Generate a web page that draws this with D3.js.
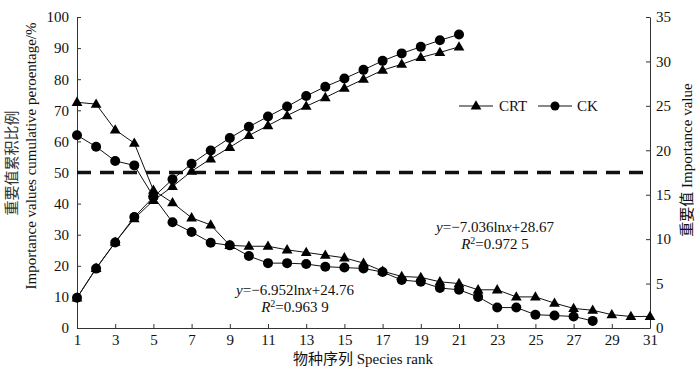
<!DOCTYPE html>
<html lang="zh">
<head>
  <meta charset="UTF-8">
  <title>重要值累积比例</title>
  <style>
    body { margin: 0; background: #fff; }
    svg text { font-family: "Liberation Serif", "Noto Sans CJK SC", serif; fill: #111; }
    .axis text { font-size: 15px; }
    .axis path, .axis line { stroke: #333; stroke-width: 1px; }
    .line { fill: none; stroke: #111; stroke-width: 1px; }
  </style>
</head>
<body>
  <script src="https://cdn.jsdelivr.net/npm/d3@7"></script>
  <script>
    const width = 700, height = 368;
    // 物种序列
    const cumRanks = d3.range(1, 22);
    const crtRanks = d3.range(1, 32);
    const ckRanks = d3.range(1, 29);
    // 重要值累积比例 (%)
    const crtCum = [9.7, 19.2, 27.6, 35.2, 41.0, 45.5, 50.4, 54.4, 58.1, 61.9, 65.1,
      68.3, 71.3, 74.1, 77.1, 80.0, 82.9, 84.8, 87.0, 88.6, 90.4];
    const ckCum = [9.7, 19.1, 27.5, 35.7, 42.1, 47.8, 52.8, 57.1, 61.1, 64.7, 68.0,
      71.2, 74.6, 77.6, 80.2, 83.0, 85.9, 88.3, 90.4, 92.5, 94.4];
    // 重要值
    const crtIv = [25.4, 25.2, 22.3, 20.8, 15.5, 14.1, 12.4, 11.6, 9.3, 9.2, 9.2,
      8.8, 8.5, 8.2, 7.9, 7.3, 6.4, 5.8, 5.7, 5.2, 5.0, 4.3, 4.3, 3.5, 3.5,
      2.8, 2.2, 2.0, 1.5, 1.3, 1.3];
    const ckIv = [21.7, 20.4, 18.8, 18.3, 14.8, 11.9, 10.8, 9.6, 9.3, 8.1, 7.3,
      7.3, 7.2, 6.9, 6.8, 6.7, 6.3, 5.4, 5.2, 4.5, 4.3, 3.5, 2.3, 2.3, 1.5,
      1.4, 1.3, 0.8];
    const xTicks = d3.range(1, 32, 2);
    const leftTicks = d3.range(0, 101, 10);
    const rightTicks = d3.range(0, 36, 5);
    const halfLine = 50;

    const x = d3.scaleLinear().domain([1, 31]).range([77, 650]);
    const yL = d3.scaleLinear().domain([0, 100]).range([328, 17]);
    const yR = d3.scaleLinear().domain([0, 35]).range([328, 17]);

    const svg = d3.select('body').append('svg')
      .attr('width', width).attr('height', height);

    svg.append('g').attr('class', 'axis')
      .attr('transform', 'translate(0,' + yL(0) + ')')
      .call(d3.axisBottom(x).tickValues(xTicks).tickSizeInner(-4).tickSizeOuter(0).tickPadding(6));
    svg.append('g').attr('class', 'axis')
      .attr('transform', 'translate(' + x(1) + ',0)')
      .call(d3.axisLeft(yL).tickValues(leftTicks).tickSizeInner(-4).tickSizeOuter(0).tickPadding(8));
    svg.append('g').attr('class', 'axis')
      .attr('transform', 'translate(' + x(31) + ',0)')
      .call(d3.axisRight(yR).tickValues(rightTicks).tickSizeInner(-4).tickSizeOuter(0).tickPadding(6));

    // 50% 虚线
    svg.append('line')
      .attr('x1', x(1)).attr('x2', x(31))
      .attr('y1', yL(halfLine)).attr('y2', yL(halfLine))
      .attr('stroke', '#111').attr('stroke-width', 3.5)
      .attr('stroke-dasharray', '14,9');

    const tri = d3.symbol().type(d3.symbolTriangle).size(50);

    function drawSeries(xs, ys, y, shape) {
      const pts = xs.map((r, i) => [r, ys[i]]);
      svg.append('path').attr('class', 'line')
        .attr('d', d3.line().x(d => x(d[0])).y(d => y(d[1]))(pts));
      const g = svg.append('g');
      if (shape === 'tri') {
        g.selectAll('path').data(pts).enter().append('path')
          .attr('d', tri)
          .attr('transform', d => 'translate(' + x(d[0]) + ',' + (y(d[1]) + 0.5) + ')')
          .attr('fill', '#000');
      } else {
        g.selectAll('circle').data(pts).enter().append('circle')
          .attr('cx', d => x(d[0])).attr('cy', d => y(d[1]))
          .attr('r', 5).attr('fill', '#000');
      }
    }
    drawSeries(cumRanks, crtCum, yL, 'tri');
    drawSeries(cumRanks, ckCum, yL, 'circle');
    drawSeries(crtRanks, crtIv, yR, 'tri');
    drawSeries(ckRanks, ckIv, yR, 'circle');

    // 图例
    const legend = svg.append('g').attr('transform', 'translate(459,106)');
    legend.append('line').attr('x1', 0).attr('x2', 34).attr('stroke', '#111');
    legend.append('path').attr('d', tri).attr('transform', 'translate(17,0.5)');
    legend.append('text').attr('x', 40).attr('dy', '0.35em').style('font-size', '15px').text('CRT');
    legend.append('line').attr('x1', 79).attr('x2', 113).attr('stroke', '#111');
    legend.append('circle').attr('cx', 96).attr('r', 4.5);
    legend.append('text').attr('x', 118).attr('dy', '0.35em').style('font-size', '15px').text('CK');

    // 拟合方程
    function equation(cx, cy, a, b, r2) {
      const t = svg.append('text').attr('x', cx).attr('y', cy)
        .attr('text-anchor', 'middle').style('font-size', '15px');
      t.append('tspan').style('font-style', 'italic').text('y');
      t.append('tspan').text('=−' + a + 'ln');
      t.append('tspan').style('font-style', 'italic').text('x');
      t.append('tspan').text('+' + b);
      const t2 = svg.append('text').attr('x', cx).attr('y', cy + 17)
        .attr('text-anchor', 'middle').style('font-size', '15px');
      t2.append('tspan').style('font-style', 'italic').text('R');
      t2.append('tspan').attr('dy', -5).style('font-size', '10px').text('2');
      t2.append('tspan').attr('dy', 5).text('=' + r2);
    }
    equation(495, 232, '7.036', '28.67', '0.972 5');
    equation(295, 295, '6.952', '24.76', '0.963 9');

    // 坐标轴标题
    svg.append('text')
      .attr('transform', 'translate(17,163) rotate(-90)')
      .attr('text-anchor', 'middle').style('font-size', '15px').style('fill', '#333')
      .text('重要值累积比例');
    svg.append('text')
      .attr('transform', 'translate(36,156) rotate(-90)')
      .attr('text-anchor', 'middle').style('font-size', '15px')
      .text('Importance values cumulative peroentage/%');
    svg.append('text')
      .attr('transform', 'translate(692,160) rotate(-90)')
      .attr('text-anchor', 'middle').style('font-size', '15px')
      .text('重要值 Importance value');
    svg.append('text')
      .attr('x', 363).attr('y', 364)
      .attr('text-anchor', 'middle').style('font-size', '15px')
      .text('物种序列 Species rank');
  </script>
</body>
</html>
